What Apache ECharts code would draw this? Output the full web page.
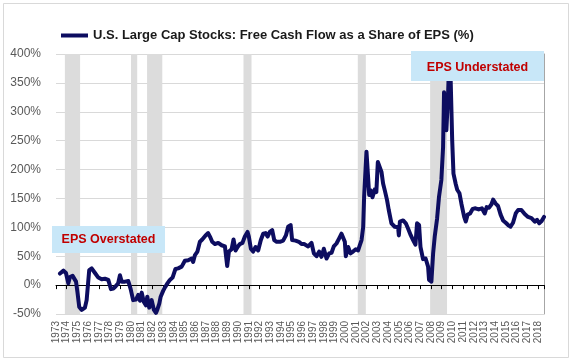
<!DOCTYPE html>
<html><head><meta charset="utf-8">
<script src="https://cdn.jsdelivr.net/npm/echarts@6/dist/echarts.min.js"></script>
<style>html,body{margin:0;padding:0;background:#fff}#c{width:573px;height:358px}</style>
</head><body><div id="c"></div>
<script>
const seriesName = 'U.S. Large Cap Stocks: Free Cash Flow as a Share of EPS (%)';
const years = [
1973.37,1973.7,1973.93,1974.15,1974.3,1974.55,1974.87,1975.0,1975.17,1975.4,1975.7,1975.86,1976.0,1976.1,1976.33,1976.64,1976.95,1977.26,1977.57,1977.88,
1978.13,1978.35,1978.57,1978.8,1978.97,1979.13,1979.44,1979.75,1979.97,1980.2,1980.46,1980.68,1980.84,1981.0,1981.2,1981.4,1981.52,1981.7,1981.93,1982.14,
1982.33,1982.45,1982.64,1982.77,1983.0,1983.17,1983.4,1983.63,1983.88,1984.05,1984.15,1984.4,1984.73,1985.03,1985.34,1985.66,1985.8,1985.97,1986.2,1986.43,
1986.65,1986.83,1986.96,1987.2,1987.37,1987.58,1987.83,1988.14,1988.46,1988.77,1988.98,1989.14,1989.39,1989.57,1989.76,1989.95,1990.16,1990.4,1990.63,1990.88,
1991.0,1991.19,1991.4,1991.63,1991.87,1992.12,1992.34,1992.56,1992.75,1992.96,1993.18,1993.37,1993.6,1993.9,1994.2,1994.46,1994.67,1994.9,1995.04,1995.36,
1995.67,1995.92,1996.16,1996.32,1996.54,1996.85,1997.07,1997.32,1997.56,1997.78,1998.0,1998.25,1998.5,1998.72,1998.93,1999.18,1999.43,1999.65,1999.8,1999.96,
2000.05,2000.27,2000.49,2000.73,2000.98,2001.2,2001.36,2001.52,2001.67,2001.76,2001.89,2001.98,2002.13,2002.23,2002.38,2002.54,2002.76,2002.9,2003.04,2003.22,
2003.38,2003.53,2003.69,2003.9,2004.06,2004.31,2004.62,2004.93,2005.0,2005.1,2005.4,2005.65,2005.86,2006.12,2006.33,2006.55,2006.7,2006.89,2007.02,2007.26,
2007.5,2007.73,2007.82,2008.04,2008.2,2008.35,2008.57,2008.75,2008.97,2009.13,2009.22,2009.38,2009.44,2009.6,2009.75,2009.9,2009.98,2010.1,2010.31,2010.45,
2010.66,2010.85,2011.1,2011.25,2011.42,2011.65,2011.9,2012.15,2012.45,2012.75,2013.02,2013.2,2013.42,2013.65,2013.8,2014.04,2014.26,2014.5,2014.73,2014.98,
2015.2,2015.42,2015.66,2015.91,2016.13,2016.44,2016.75,2017.06,2017.38,2017.69,2017.9,2018.1,2018.33,2018.55
];
const fcfShare = [
20,25,21,3,14,16,6,-12,-38,-43,-39,-26,-23,26,29,21,13,10,11,9,
-7,-6,-2,3,17,6,6,7,-7,-26,-25,-17,-27,-13,-29,-35,-20,-39,-26,-43,
-48,-43,-32,-20,-10,-4,3,9,13,12,28,29,32,42,43,46,40,52,58,75,
79,78,86,90,84,75,71,73,69,67,33,58,62,79,60,66,71,73,84,92,
84,63,58,66,60,78,89,90,84,92,95,78,75,75,77,86,101,104,78,77,
75,71,71,72,67,73,55,50,58,49,63,46,55,56,67,72,81,89,86,75,
50,66,55,58,62,60,69,78,100,153,199,231,187,156,164,152,166,161,213,212,
196,176,164,147,130,107,101,100,86,110,112,107,98,86,78,70,107,104,66,45,
46,32,9,6,55,84,115,153,182,239,334,290,268,332,420,420,251,193,175,165,
159,140,118,110,122,124,132,133,131,133,124,135,134,140,148,141,137,122,112,108,
104,101,108,124,130,130,123,118,116,110,113,107,111,118
];
const recessions = [[1973.83,1975.25],[1980.0,1980.58],[1981.5,1982.92],[1990.5,1991.25],[2001.17,2001.92],[2007.92,2009.5]];
const yMin = -50, yMax = 400, yStep = 50;
const xMin = 1973, xMax = 2018.55;
const noteTexts = ['EPS Overstated', 'EPS Understated'];

// annotation box layout (pixels) — presentation only
const noteBoxes = [[52, 226, 113, 27], [411, 51, 133, 30]];

const chart = echarts.init(document.getElementById('c'), null, {renderer:'canvas'});
const FONT = '"Liberation Sans", Arial, sans-serif';
const lineData = years.map((y, i) => [y, fcfShare[i]]);

const noteGraphics = [];
noteBoxes.forEach((b, i) => {
  noteGraphics.push({type: 'rect', z: 100, silent: true,
    shape: {x: b[0], y: b[1], width: b[2], height: b[3]}, style: {fill: '#C8E7F8'}});
  noteGraphics.push({type: 'text', z: 101, silent: true, x: b[0] + b[2] / 2, y: b[1] + b[3] / 2 + 0.5 + (i === 1 ? 1 : 0),
    style: {text: noteTexts[i], fill: '#C00000', fontFamily: FONT, fontSize: 12.5, fontWeight: 'bold', align: 'center', verticalAlign: 'middle'}});
});

chart.setOption({
  animation: false,
  backgroundColor: '#fff',
  grid: {left: 56, right: 29, top: 54, bottom: 44, containLabel: false},
  legend: {
    data: [seriesName], left: 56, top: 24, icon: 'rect', itemWidth: 27, itemHeight: 4,
    textStyle: {fontFamily: FONT, fontSize: 13, fontWeight: 'bold', color: '#1a1a1a'}
  },
  xAxis: [
    {type: 'value', min: xMin, max: xMax, interval: 1, position: 'bottom',
     axisLine: {show: false, onZero: false}, axisTick: {show: false}, splitLine: {show: false},
     axisLabel: {rotate: 90, fontSize: 10, fontFamily: FONT, color: '#595959', margin: 7,
       formatter: v => Number.isInteger(v) ? String(v) : ''}},
    {type: 'value', min: xMin, max: xMax, interval: 1, position: 'bottom', z: 1.5,
     axisLine: {show: true, onZero: true, lineStyle: {color: '#000', width: 1}},
     axisTick: {show: true, length: 4, lineStyle: {color: '#000'}},
     axisLabel: {show: false}, splitLine: {show: false}}
  ],
  yAxis: [
    {type: 'value', min: yMin, max: yMax, interval: yStep, position: 'left',
     axisLine: {show: false}, axisTick: {show: false},
     splitLine: {show: true, lineStyle: {color: '#D9D9D9', width: 1}},
     axisLabel: {formatter: v => v + '%', fontSize: 12, fontFamily: FONT, color: '#595959', margin: 15}},
    {type: 'value', min: yMin, max: yMax, interval: yStep, position: 'right',
     axisLine: {show: true, lineStyle: {color: '#A6A6A6'}}, axisTick: {show: false},
     axisLabel: {show: false}, splitLine: {show: false}}
  ],
  series: [{
    name: seriesName, type: 'line', xAxisIndex: 1, yAxisIndex: 0,
    data: lineData, showSymbol: false, symbol: 'none', clip: true, z: 3,
    lineStyle: {color: '#0D0D60', width: 4, join: 'round', cap: 'round'},
    itemStyle: {color: '#0D0D60'},
    markArea: {silent: true, z: 1, itemStyle: {color: '#DCDCDC'},
      data: recessions.map(r => [{xAxis: r[0]}, {xAxis: r[1]}])}
  }],
  graphic: [
    {type: 'rect', left: 1, top: 1, z: 0, silent: true,
     shape: {width: 565, height: 354}, style: {fill: 'none', stroke: '#D9D9D9', lineWidth: 1}}
  ].concat(noteGraphics)
});
</script></body></html>
